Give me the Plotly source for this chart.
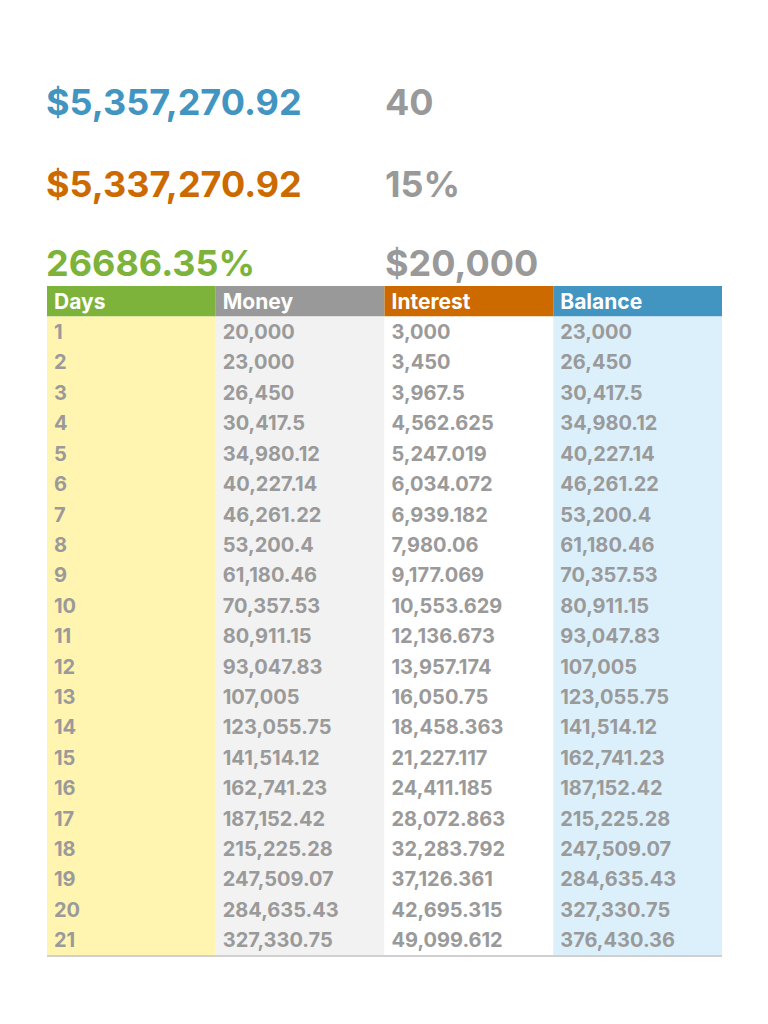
import plotly.graph_objects as go

# ── Data ────────────────────────────────────────────────────────────────────
HEADERS = ["Days", "Money", "Interest", "Balance"]

days = [str(d) for d in range(1, 22)]
money = ["20,000", "23,000", "26,450", "30,417.5", "34,980.12", "40,227.14",
         "46,261.22", "53,200.4", "61,180.46", "70,357.53", "80,911.15",
         "93,047.83", "107,005", "123,055.75", "141,514.12", "162,741.23",
         "187,152.42", "215,225.28", "247,509.07", "284,635.43", "327,330.75"]
interest = ["3,000", "3,450", "3,967.5", "4,562.625", "5,247.019", "6,034.072",
            "6,939.182", "7,980.06", "9,177.069", "10,553.629", "12,136.673",
            "13,957.174", "16,050.75", "18,458.363", "21,227.117", "24,411.185",
            "28,072.863", "32,283.792", "37,126.361", "42,695.315", "49,099.612"]
balance = ["23,000", "26,450", "30,417.5", "34,980.12", "40,227.14", "46,261.22",
           "53,200.4", "61,180.46", "70,357.53", "80,911.15", "93,047.83",
           "107,005", "123,055.75", "141,514.12", "162,741.23", "187,152.42",
           "215,225.28", "247,509.07", "284,635.43", "327,330.75", "376,430.36"]

# summary figures (left column / right column)
summary_left = ["$5,357,270.92", "$5,337,270.92", "26686.35%"]
summary_right = ["40", "15%", "$20,000"]

# ── Style ───────────────────────────────────────────────────────────────────
FONT = "Inter"
GREEN, GRAY, ORANGE, BLUE = "#7db33a", "#999999", "#cc6a00", "#4295c1"
HEAD_COLORS = [GREEN, GRAY, ORANGE, BLUE]
CELL_COLORS = ["#fff4b0", "#f2f2f2", "#ffffff", "#dcf0fc"]
LEFT_COLORS = [BLUE, ORANGE, GREEN]
TEXT_GRAY = "#9a9a9a"
W, H = 768, 1024
OFF = 8                        # page body margin the browser adds
X0, X1 = 47 - OFF, 722 - OFF   # table left / right edge, px
Y0, Y1 = 286 - OFF, 955 - OFF  # table top / bottom edge, px
PAD = 7 / ((X1 - X0) / 4)      # left text padding in column units
VSHIFT = 0.08                  # nudge text down to sit centred in its row

columns = [days, money, interest, balance]
n_rows = len(days)

fig = go.Figure()

# column backgrounds: header strip + body strip
for i, (hc, cc) in enumerate(zip(HEAD_COLORS, CELL_COLORS)):
    fig.add_trace(go.Bar(x=[i + 0.5], y=[1], base=[-0.5], width=[1],
                         marker=dict(color=hc, line=dict(width=0)),
                         hoverinfo="skip", showlegend=False))
    fig.add_trace(go.Bar(x=[i + 0.5], y=[n_rows], base=[0.5], width=[1],
                         marker=dict(color=cc, line=dict(width=0)),
                         hoverinfo="skip", showlegend=False))

# header labels
fig.add_trace(go.Scatter(
    x=[i + PAD for i in range(len(HEADERS))], y=[VSHIFT] * len(HEADERS),
    text=[f"<b>{h}</b>" for h in HEADERS], mode="text",
    textposition="middle right",
    textfont=dict(family=FONT, size=21, color="white"),
    hoverinfo="skip", showlegend=False))

# body cells
for i, col in enumerate(columns):
    fig.add_trace(go.Scatter(
        x=[i + PAD] * len(col), y=[r + VSHIFT for r in range(1, len(col) + 1)],
        text=[f"<b>{v}</b>" for v in col], mode="text",
        textposition="middle right",
        textfont=dict(family=FONT, size=20, color=TEXT_GRAY),
        hoverinfo="skip", showlegend=False))

# summary figures above the table
rows_y = [102, 184, 263]
for txt, col, yy in zip(summary_left, LEFT_COLORS, rows_y):
    fig.add_annotation(text=f"<b>{txt}</b>", x=(47 - OFF - 3) / W, y=1 - (yy - OFF) / H,
                       xref="paper", yref="paper", xanchor="left", yanchor="middle",
                       showarrow=False, font=dict(family=FONT, size=36, color=col))
for txt, yy in zip(summary_right, rows_y):
    fig.add_annotation(text=f"<b>{txt}</b>", x=(386 - OFF - 3) / W, y=1 - (yy - OFF) / H,
                       xref="paper", yref="paper", xanchor="left", yanchor="middle",
                       showarrow=False, font=dict(family=FONT, size=36, color=GRAY))

fig.update_layout(
    width=W, height=H,
    margin=dict(l=0, r=0, t=0, b=0),
    paper_bgcolor="white",
    plot_bgcolor="white",
    barmode="overlay",
    xaxis=dict(domain=[X0 / W, X1 / W], range=[0, 4], showgrid=False,
               zeroline=False, showticklabels=False, ticks="",
               showline=True, linecolor="#d0d0d0", linewidth=2),
    yaxis=dict(domain=[1 - Y1 / H, 1 - Y0 / H], range=[n_rows + 0.5, -0.5],
               showgrid=False, zeroline=False, showticklabels=False, ticks=""),
)

fig.write_html("out.html")
